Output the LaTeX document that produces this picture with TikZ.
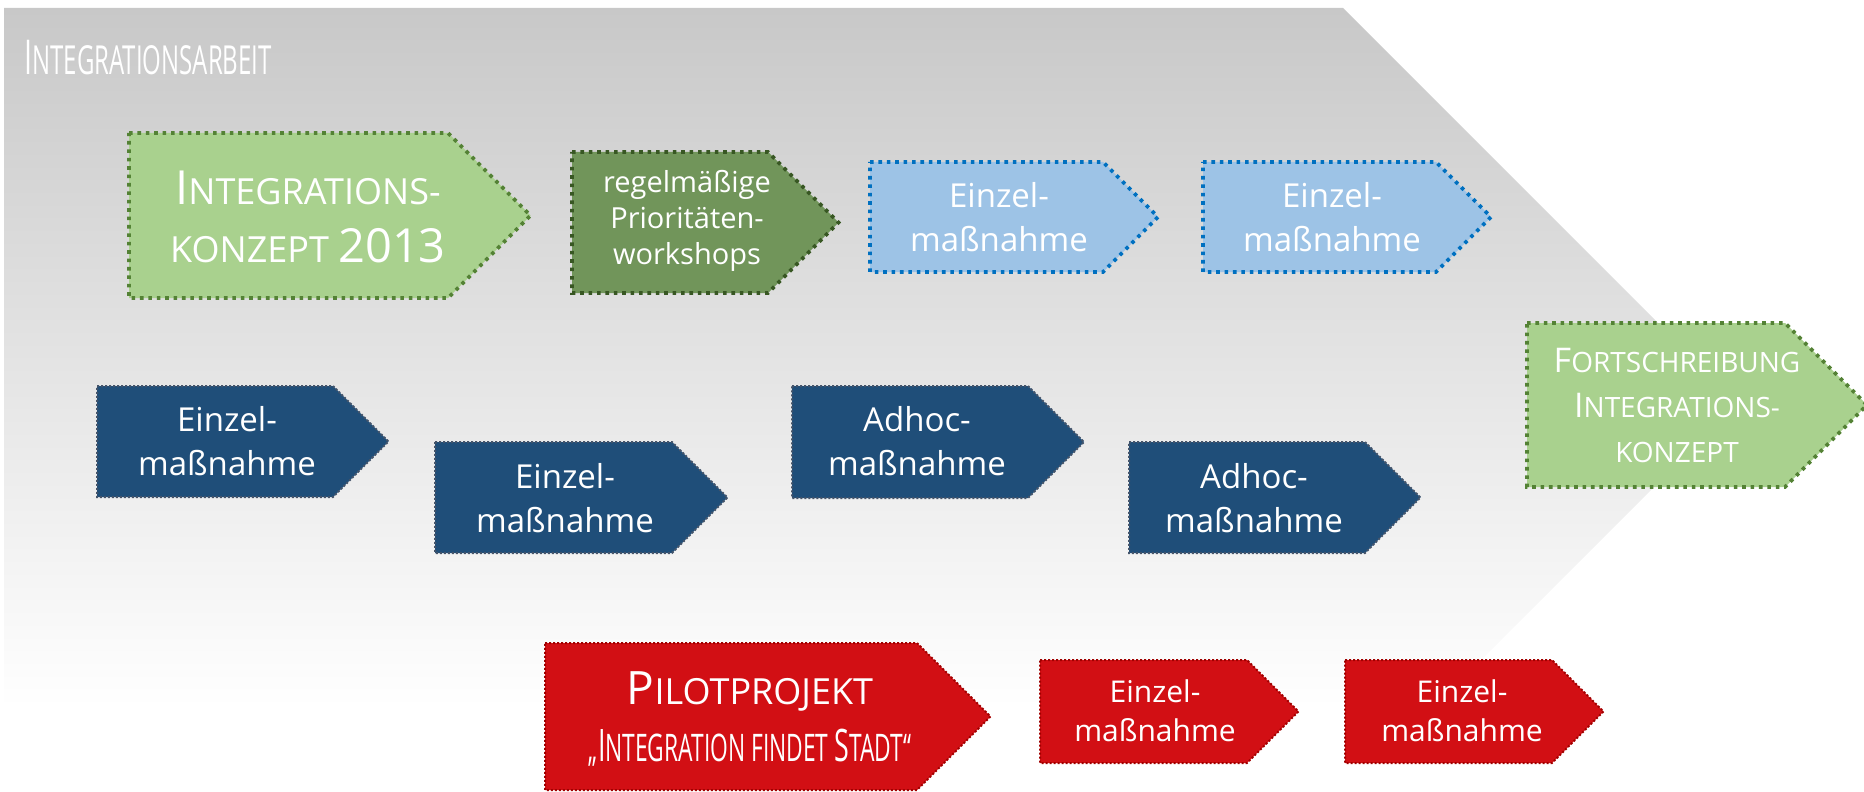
\documentclass[tikz,border=0pt]{standalone}
\usepackage{fontspec}
\setmainfont{Open Sans}
\newfontfamily\condfont[FakeStretch=0.6]{Open Sans}
\definecolor{bgtop}{HTML}{C8C8C8}
\definecolor{bgmid}{HTML}{DCDCDC}
\definecolor{lgfill}{HTML}{A9D18E}
\definecolor{lgline}{HTML}{548235}
\definecolor{dgfill}{HTML}{71955A}
\definecolor{dgline}{HTML}{385723}
\definecolor{lbfill}{HTML}{9DC3E6}
\definecolor{lbline}{HTML}{0070C0}
\definecolor{nvfill}{HTML}{1F4E79}
\definecolor{nvline}{HTML}{44546A}
\definecolor{rdfill}{HTML}{D20F14}
\definecolor{rdline}{HTML}{A00000}
\newcommand\chevbox[5]{%
  \draw[#1] (#2,#3) -- (#4,#3) -- ({#4+(#5-#3)/2},{(#3+#5)/2}) -- (#4,#5) -- (#2,#5) -- cycle;}
\newcommand\fs[2]{\fontsize{#1}{#2}\selectfont}
\begin{document}
\begin{tikzpicture}[x=0.5pt,y=-0.5pt,
  bigdots/.style={line width=1.8pt, dash pattern=on 1.8pt off 2.4pt},
  smalldots/.style={line width=1pt, dash pattern=on 1pt off 1pt},
  lgbox/.style={fill=lgfill, draw=lgline, bigdots},
  dgbox/.style={fill=dgfill, draw=dgline, bigdots},
  lbbox/.style={fill=lbfill, draw=lbline, bigdots},
  nvbox/.style={fill=nvfill, draw=nvline, smalldots},
  rdbox/.style={fill=rdfill, draw=rdline, smalldots},
  txt/.style={text=white, align=center, inner sep=0pt},
  einzel/.style={txt, font=\fs{16.5}{22}},
  rdeinzel/.style={txt, font=\fs{15}{19.5}}]
\useasboundingbox (0,0) rectangle (1864,792);
% background chevron
\shade[top color=bgtop, middle color=bgmid, bottom color=white]
  (4,8) -- (1343,8) -- (1738,403) -- (1433,708) -- (4,708) -- cycle;
\node[txt, anchor=base west, font=\condfont\fs{20}{24}] (title) at (24,75)
  {{\fs{24}{24}I}NTEGRATIONSARBEIT};
% top row
\chevbox{lgbox}{129}{133}{448}{298}
\node[txt, font=\fs{18}{29}] (konzept) at (308,217)
  {{\fs{23.5}{29}I}NTEGRATIONS-\\KONZEPT {\fs{23.5}{29}2013}};
\chevbox{dgbox}{572}{152}{768}{293}
\node[txt, font=\fs{14.5}{18}] (prio) at (687,221)
  {regelmäßige\\Prioritäten-\\workshops};
\chevbox{lbbox}{870}{162}{1103}{272}
\node[einzel] (b1) at (999,217) {Einzel-\\maßnahme};
\chevbox{lbbox}{1203}{162}{1436}{272}
\node[einzel] (b2) at (1332,217) {Einzel-\\maßnahme};
% Fortschreibung
\chevbox{lgbox}{1527}{323}{1785}{487}
\node[txt, font=\fs{14}{22.5}] (fort) at (1677,405)
  {{\fs{17}{22.5}F}ORTSCHREIBUNG\\{\fs{17}{22.5}I}NTEGRATIONS-\\KONZEPT};
% navy row
\chevbox{nvbox}{97}{386}{333}{497}
\node[einzel] (n1) at (227,441) {Einzel-\\maßnahme};
\chevbox{nvbox}{435}{442}{672}{553}
\node[einzel] (n2) at (565,498) {Einzel-\\maßnahme};
\chevbox{nvbox}{792}{386}{1028}{498}
\node[einzel] (n3) at (917,441) {Adhoc-\\maßnahme};
\chevbox{nvbox}{1129}{442}{1365}{553}
\node[einzel] (n4) at (1254,498) {Adhoc-\\maßnahme};
% red row
\chevbox{rdbox}{545}{643}{917}{790}
\node[txt, font=\fs{18}{28.5}] (pilot) at (750,719)
  {{\fs{23}{28.5}P}ILOTPROJEKT\\
   {\condfont\fs{19}{28.5}„{\fs{22.4}{28.5}I}NTEGRATION FINDET {\fs{22.4}{28.5}S}TADT“}};
\chevbox{rdbox}{1040}{660}{1247}{763}
\node[rdeinzel] (r1) at (1155,711) {Einzel-\\maßnahme};
\chevbox{rdbox}{1345}{660}{1552}{763}
\node[rdeinzel] (r2) at (1462,711) {Einzel-\\maßnahme};
\end{tikzpicture}
\end{document}
